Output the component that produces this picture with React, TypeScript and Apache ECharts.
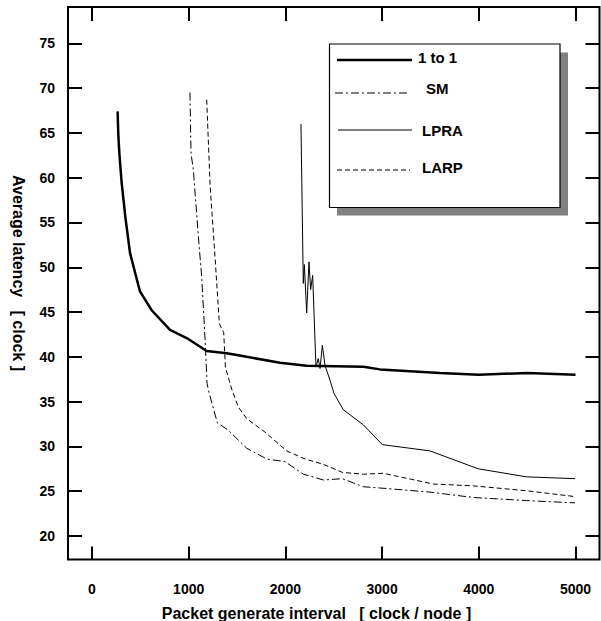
import React, { useEffect, useRef } from "react";
import * as echarts from "echarts";

const xMin = 0;
const xMax = 5000;
const xStep = 1000;
const yMin = 20;
const yMax = 75;
const yStep = 5;

const oneToOne: [number, number][] = [
  [265, 67.4], [272, 64.8], [283, 62.7], [307, 59.4], [345, 55.6], [393, 51.6],
  [496, 47.3], [617, 45.2], [807, 43.0], [979, 42.1], [1186, 40.65], [1393, 40.4],
  [1600, 40.0], [1944, 39.35], [2220, 39.0], [2806, 38.9], [2978, 38.6], [3599, 38.2],
  [4000, 38.0], [4500, 38.2], [5000, 38.0],
];
const sm: [number, number][] = [
  [1013, 69.5], [1024, 62.7], [1048, 60.9], [1100, 53.4], [1134, 49.0], [1169, 42.0],
  [1190, 37.0], [1213, 35.9], [1296, 32.65], [1410, 31.8], [1600, 29.8], [1806, 28.6],
  [1996, 28.3], [2186, 26.9], [2393, 26.25], [2589, 26.4], [2806, 25.5], [3047, 25.3],
  [3495, 24.9], [3943, 24.3], [4495, 23.95], [4995, 23.7],
];
const lpra: [number, number][] = [
  [2161, 66.0], [2185, 48.2], [2196, 50.3], [2220, 44.9], [2244, 50.6], [2261, 47.5],
  [2282, 49.1], [2316, 38.9], [2340, 39.8], [2358, 38.7], [2382, 41.3], [2410, 39.0],
  [2461, 37.4], [2503, 35.9], [2599, 34.1], [2806, 32.4], [3003, 30.2], [3495, 29.5],
  [3995, 27.5], [4495, 26.6], [4995, 26.4],
];
const larp: [number, number][] = [
  [1186, 68.7], [1222, 59.0], [1272, 51.2], [1317, 43.7], [1362, 42.7], [1380, 38.8],
  [1445, 36.4], [1513, 34.4], [1600, 33.1], [1789, 31.6], [2013, 29.5], [2203, 28.6],
  [2393, 28.0], [2589, 27.1], [2806, 26.9], [3013, 27.0], [3530, 25.8], [3943, 25.6],
  [4495, 25.05], [4995, 24.4],
];

const legendNames = ["1 to 1", "SM", "LPRA", "LARP"];
const xTitle = "Packet generate interval   [ clock / node ]";
const yTitle = "Average latency   [ clock ]";

const FONT = "'Liberation Sans', Arial, Helvetica, sans-serif";

export default function App() {
  const ref = useRef<HTMLDivElement>(null);
  useEffect(() => {
    if (!ref.current) return;
    const chart = echarts.init(ref.current, undefined, { renderer: "svg" });
    const noLine = { show: false, onZero: false };
    const tickStyle = { color: "#000", width: 2 };
    const labelStyle = {
      color: "#000", fontSize: 14, fontWeight: "bold" as const, fontFamily: FONT,
      formatter: (v: number) => String(v),
    };
    const dashDot = [8, 3, 2, 3];
    const dashed = [5, 3];
    const xBase = { type: "value", min: xMin, max: xMax, interval: xStep, splitLine: { show: false }, axisLine: noLine };
    const yBase = { type: "value", min: yMin, max: yMax, interval: yStep, splitLine: { show: false }, axisLine: noLine };
    const option: any = {
      animation: false,
      backgroundColor: "#fff",
      grid: { left: 92, top: 43.3, width: 483.5, height: 492.7, containLabel: false },
      xAxis: [
        {
          ...xBase, position: "bottom", offset: 23.5,
          axisTick: { show: true, inside: true, length: 13, lineStyle: tickStyle },
          axisLabel: { ...labelStyle, margin: 22 },
        },
        {
          ...xBase, position: "top", offset: 36.3,
          axisTick: { show: true, inside: true, length: 14, lineStyle: tickStyle },
          axisLabel: { show: false },
        },
      ],
      yAxis: [
        {
          ...yBase, position: "left", offset: 24,
          axisTick: { show: true, inside: true, length: 14, lineStyle: tickStyle },
          axisLabel: { ...labelStyle, margin: 13 },
        },
        {
          ...yBase, position: "right", offset: 24,
          axisTick: { show: true, inside: true, length: 14, lineStyle: tickStyle },
          axisLabel: { show: false },
        },
      ],
      series: [
        { name: legendNames[0], type: "line", data: oneToOne, symbol: "none", clip: false, lineStyle: { color: "#000", width: 2.5 } },
        { name: legendNames[1], type: "line", data: sm, symbol: "none", clip: false, lineStyle: { color: "#000", width: 1, type: dashDot } },
        { name: legendNames[2], type: "line", data: lpra, symbol: "none", clip: false, lineStyle: { color: "#000", width: 1 } },
        { name: legendNames[3], type: "line", data: larp, symbol: "none", clip: false, lineStyle: { color: "#000", width: 1, type: dashed } },
      ],
      graphic: [
        { type: "rect", shape: { x: 68, y: 7, width: 531.5, height: 552.5 }, style: { fill: "none", stroke: "#000", lineWidth: 2 }, z: 9 },
        { type: "rect", shape: { x: 337, y: 52.5, width: 231, height: 163 }, style: { fill: "#808080" }, z: 10 },
        { type: "rect", shape: { x: 329.5, y: 44, width: 230.5, height: 163.5 }, style: { fill: "#fff", stroke: "#000", lineWidth: 1.2 }, z: 11 },
        { type: "line", shape: { x1: 337, y1: 60, x2: 412, y2: 60 }, style: { stroke: "#000", lineWidth: 2.5 }, z: 12 },
        { type: "line", shape: { x1: 335, y1: 93, x2: 408, y2: 93 }, style: { stroke: "#000", lineWidth: 1, lineDash: dashDot }, z: 12 },
        { type: "line", shape: { x1: 338, y1: 130, x2: 412, y2: 130 }, style: { stroke: "#000", lineWidth: 1 }, z: 12 },
        { type: "line", shape: { x1: 337, y1: 170, x2: 410, y2: 170 }, style: { stroke: "#000", lineWidth: 1, lineDash: dashed }, z: 12 },
        { type: "text", x: 418, y: 57, style: { text: legendNames[0], fill: "#000", font: `bold 15px ${FONT}`, textVerticalAlign: "middle" }, z: 12 },
        { type: "text", x: 426, y: 88, style: { text: legendNames[1], fill: "#000", font: `bold 15px ${FONT}`, textVerticalAlign: "middle" }, z: 12 },
        { type: "text", x: 422, y: 130, style: { text: legendNames[2], fill: "#000", font: `bold 15px ${FONT}`, textVerticalAlign: "middle" }, z: 12 },
        { type: "text", x: 422, y: 167, style: { text: legendNames[3], fill: "#000", font: `bold 15px ${FONT}`, textVerticalAlign: "middle" }, z: 12 },
        { type: "text", x: 316.5, y: 613, style: { text: xTitle, fill: "#000", font: `bold 16px ${FONT}`, textAlign: "center", textVerticalAlign: "middle" }, z: 12 },
        { type: "text", x: 18, y: 273, rotation: -Math.PI / 2, style: { text: yTitle, fill: "#000", font: `bold 16px ${FONT}`, textAlign: "center", textVerticalAlign: "middle" }, z: 12 },
      ],
    };
    chart.setOption(option);
    return () => chart.dispose();
  }, []);
  return <div ref={ref} style={{ position: "fixed", left: 0, top: 0, width: 601, height: 621 }} />;
}
